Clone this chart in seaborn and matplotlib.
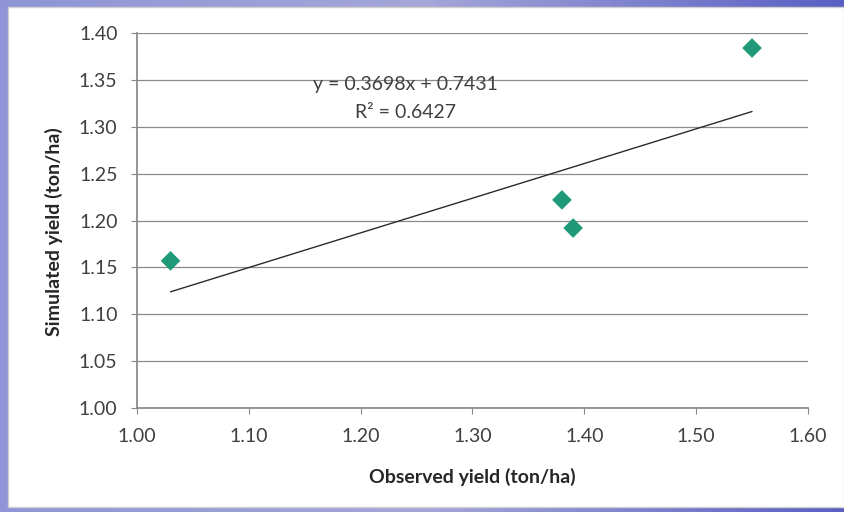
# Observed vs simulated yield scatter with linear trendline
import numpy as np
import pandas as pd
import seaborn as sns
import matplotlib.pyplot as plt
from matplotlib.patches import Rectangle
from matplotlib.colors import LinearSegmentedColormap

# Data
observed = [1.03, 1.38, 1.39, 1.55]
simulated = [1.157, 1.222, 1.192, 1.384]

# Trendline as printed on the chart
slope = 0.3698
intercept = 0.7431
r_squared = 0.6427

x_ticks = [1.00, 1.10, 1.20, 1.30, 1.40, 1.50, 1.60]
y_ticks = [1.00, 1.05, 1.10, 1.15, 1.20, 1.25, 1.30, 1.35, 1.40]

df = pd.DataFrame({'Observed': observed, 'Simulated': simulated})
fit_x = np.array([min(observed), max(observed)])
fit = pd.DataFrame({'x': fit_x, 'y': slope * fit_x + intercept})

sns.set_theme(style="white")
plt.rcParams['font.family'] = ['Lato', 'DejaVu Sans']

fig = plt.figure(figsize=(8.44, 5.12), dpi=100)

# slide background: light lavender to blue gradient
bg = fig.add_axes([0, 0, 1, 1], zorder=-20)
bg.imshow(np.linspace(0, 1, 256)[None, :], aspect='auto', extent=[0, 1, 0, 1],
          cmap=LinearSegmentedColormap.from_list('slide', ['#8f95d6', '#a5a7d8', '#5a5fc4']))
bg.axis('off')

# white chart panel on top of the slide background
fig.patches.append(Rectangle((0.0095, 0.01), 0.99, 0.977, transform=fig.transFigure,
                             facecolor='white', edgecolor='#d0d0d0', lw=1, zorder=-10))

ax = fig.add_axes([0.1623, 0.203, 0.795, 0.7325])
ax.set_facecolor('none')

sns.lineplot(data=fit, x='x', y='y', ax=ax, color='#2b2b2b', lw=1.0, zorder=3)
sns.scatterplot(data=df, x='Observed', y='Simulated', ax=ax, marker='D', s=100,
                color='#1f9a78', edgecolor='none', zorder=4)

ax.set_xlim(1.00, 1.60)
ax.set_ylim(1.00, 1.40)
ax.set_xticks(x_ticks)
ax.set_yticks(y_ticks)
ax.set_xticklabels([f'{v:.2f}' for v in x_ticks])
ax.set_yticklabels([f'{v:.2f}' for v in y_ticks])
ax.tick_params(axis='both', labelsize=14, colors='#888888', labelcolor='#404040',
               length=4, width=0.8, direction='out', left=True, bottom=True)
ax.tick_params(axis='x', pad=10)
ax.tick_params(axis='y', pad=10)

ax.grid(axis='y', color='#8a8a8a', lw=0.9)
ax.grid(axis='x', visible=False)
ax.set_axisbelow(True)
for side in ['top', 'right']:
    ax.spines[side].set_visible(False)
ax.spines['left'].set_color('#888888')
ax.spines['bottom'].set_color('#888888')

ax.set_xlabel('Observed yield (ton/ha)', fontsize=14, fontweight='bold', color='#262626')
ax.set_ylabel('Simulated yield (ton/ha)', fontsize=14, fontweight='bold', color='#262626')
ax.xaxis.set_label_coords(0.5, -0.16)
ax.yaxis.set_label_coords(-0.11, 0.47)

ax.text(1.24, 1.3456, f'y = {slope}x + {intercept}', ha='center', va='center',
        fontsize=14, color='#404040')
ax.text(1.24, 1.315, f'R² = {r_squared}', ha='center', va='center',
        fontsize=14, color='#404040')

fig.savefig('out.png', dpi=100)
